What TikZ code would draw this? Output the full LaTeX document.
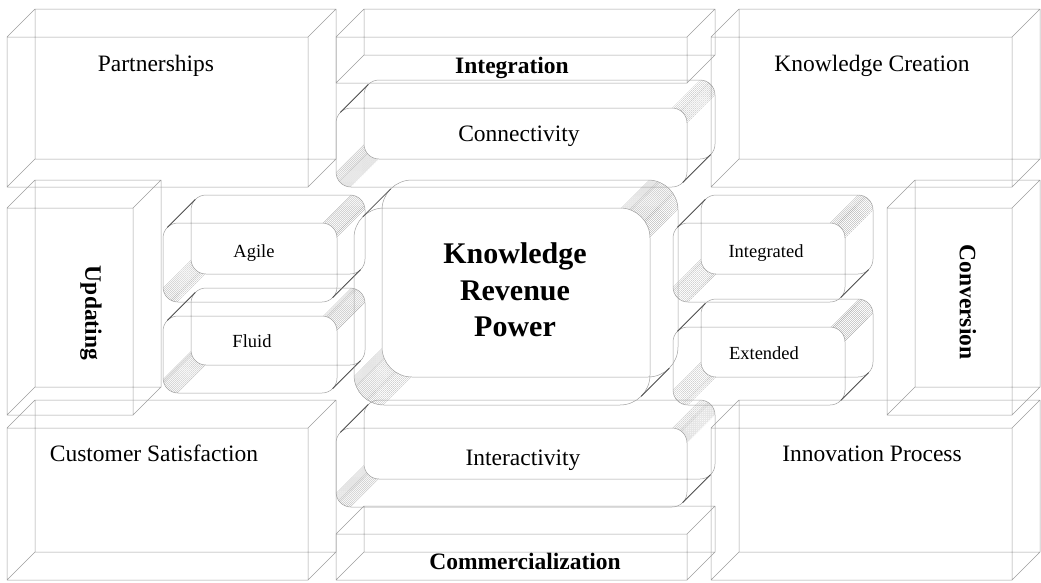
\documentclass[tikz,border=0pt]{standalone}
\usepackage{fontspec}
\setmainfont{Liberation Serif}
\usetikzlibrary{patterns.meta}
\tikzset{
    every picture/.style={line width=0.5pt},
    edge/.style={draw=black!38},
    rim/.style={draw=black!70,line width=0.8pt},
    hatch/.style={pattern={Lines[angle=45,distance=1.4pt,line width=0.2pt]},pattern color=black!40},
    biglabel/.style={font=\fontsize{23.5}{28}\selectfont},
    boldlabel/.style={font=\fontsize{23.5}{28}\selectfont\bfseries},
    smalllabel/.style={font=\fontsize{18.5}{22}\selectfont},
    corelabel/.style={font=\fontsize{30}{36.5}\selectfont\bfseries,align=center}
}
% plain box, front face from (#1,#2) to (#3,#4)
\newcommand{\flatbox}[4]{
    \draw[edge] (#1,#2) rectangle (#3,#4) (#1+28,#2-28) rectangle (#3+28,#4-28)
        (#1,#2) -- ++(28,-28) (#3,#2) -- ++(28,-28)
        (#1,#4) -- ++(28,-28) (#3,#4) -- ++(28,-28);
}
% rounded box, #5 = corner radius
\newcommand{\roundbox}[5]{
    \fill[hatch] (#3-#5,#2) arc[start angle=270,end angle=360,radius=#5] -- ++(28,-28)
        arc[start angle=0,end angle=-90,radius=#5] -- cycle;
    \fill[hatch] (#1+#5,#4) arc[start angle=90,end angle=180,radius=#5] -- ++(28,-28)
        arc[start angle=180,end angle=90,radius=#5] -- cycle;
    \draw[edge,rounded corners=#5pt] (#1,#2) rectangle (#3,#4) (#1+28,#2-28) rectangle (#3+28,#4-28);
    \draw[rim] (#1+0.293*#5,#2+0.293*#5) -- ++(28,-28) (#3-0.293*#5,#4-0.293*#5) -- ++(28,-28);
}

\begin{document}
\begin{tikzpicture}[x=1pt,y=-1pt]
    \useasboundingbox (0,0) rectangle (1041,582);
    % top row
    \flatbox{7}{37}{308}{187}
    \flatbox{336}{37}{687}{83}
    \flatbox{711}{37}{1012}{187}
    \roundbox{336}{108}{687}{187}{15}
    % middle row
    \flatbox{7}{208}{133}{415}
    \roundbox{163}{223}{337}{302}{15}
    \roundbox{163}{316}{337}{393}{15}
    \roundbox{354}{208}{650}{405}{30}
    \roundbox{673}{223}{845}{302}{15}
    \roundbox{673}{327}{845}{405}{15}
    \flatbox{887}{208}{1012}{415}
    % bottom row
    \flatbox{7}{428}{308}{580}
    \roundbox{336}{428}{687}{507}{15}
    \flatbox{336}{534}{687}{580}
    \flatbox{711}{428}{1012}{580}

    \node[biglabel,anchor=base] (partner) at (156,71) {Partnerships};
    \node[boldlabel,anchor=base] (integ) at (512,73) {Integration};
    \node[biglabel,anchor=base] (create) at (872,71) {Knowledge Creation};
    \node[biglabel,anchor=base] (connect) at (519,141) {Connectivity};
    \node[boldlabel,rotate=-90] (update) at (91,313) {Updating};
    \node[smalllabel,anchor=base] (agile) at (254,257) {Agile};
    \node[smalllabel,anchor=base] (fluid) at (252,347) {Fluid};
    \node[corelabel] (power) at (515,290) {Knowledge\\Revenue\\Power};
    \node[smalllabel,anchor=base] (integd) at (766,257) {Integrated};
    \node[smalllabel,anchor=base] (extend) at (764,359) {Extended};
    \node[boldlabel,rotate=-90] (convert) at (968,302) {Conversion};
    \node[biglabel,anchor=base] (custom) at (154,461) {Customer Satisfaction};
    \node[biglabel,anchor=base] (interact) at (523,465) {Interactivity};
    \node[boldlabel,anchor=base] (commerce) at (525,569) {Commercialization};
    \node[biglabel,anchor=base] (innov) at (872,461) {Innovation Process};
\end{tikzpicture}
\end{document}
